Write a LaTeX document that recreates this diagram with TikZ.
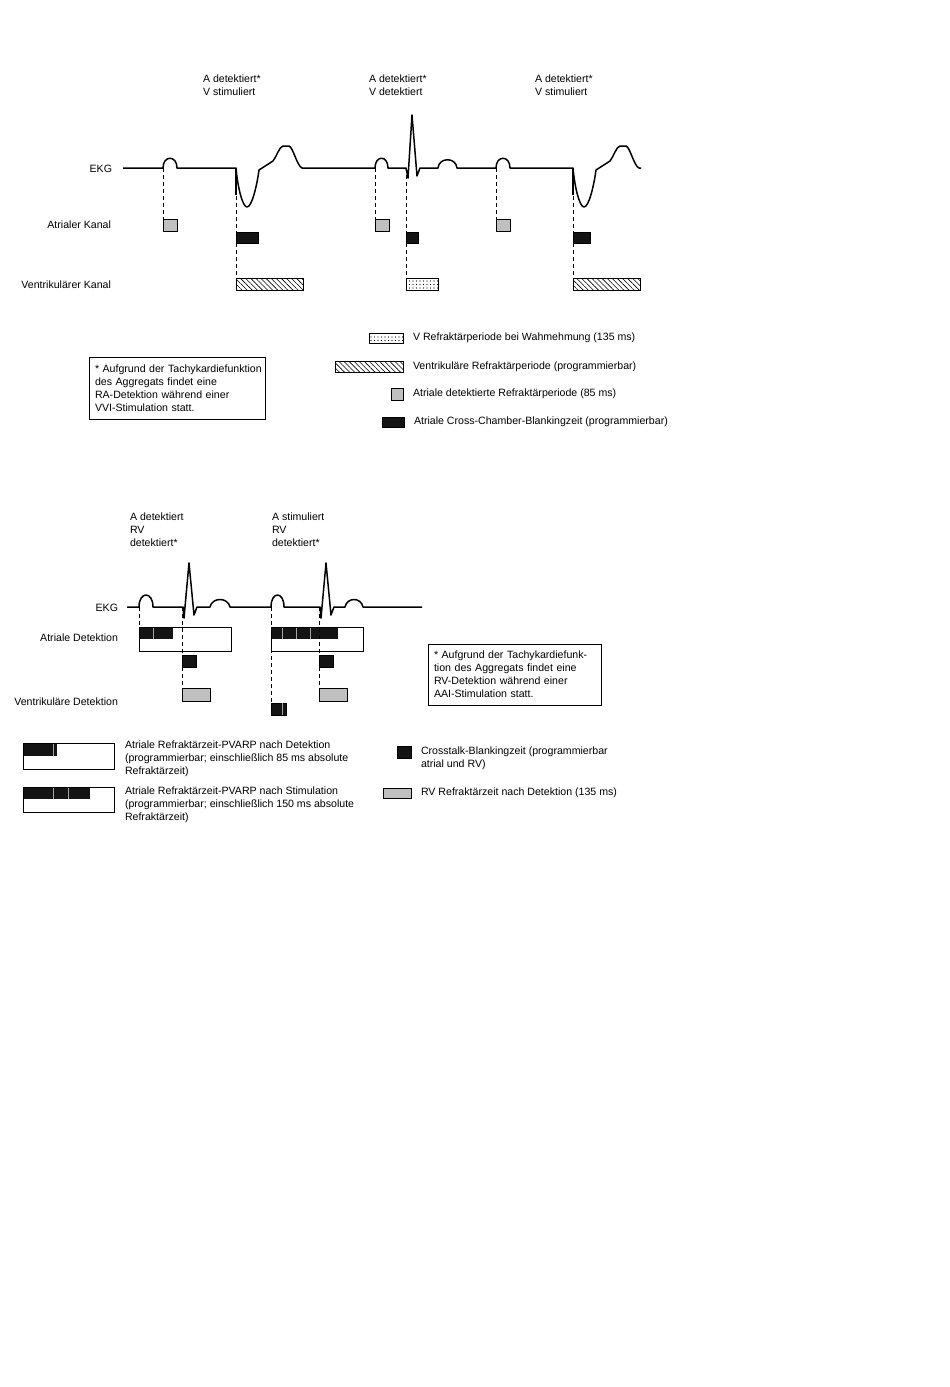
\documentclass[tikz,border=0pt]{standalone}
\usepackage{fontspec}
\setmainfont{Liberation Sans}
\usetikzlibrary{positioning,patterns.meta}
\definecolor{kastengrau}{RGB}{192,192,192}
\definecolor{kastenschwarz}{RGB}{20,20,20}

\begin{document}
\begin{tikzpicture}[x=1pt,y=-1pt,
  every node/.style={font=\fontsize{10.6}{13}\selectfont, inner sep=0pt, outer sep=0pt},
  ekg/.style={line width=1.5pt, line join=round},
  spike/.style={line width=2.4pt},
  lead/.style={dash pattern=on 4pt off 3pt, line width=0.8pt},
  box/.style={draw, line width=0.8pt, anchor=north west},
  grau/.style={box, fill=kastengrau},
  schwarz/.style={box, fill=kastenschwarz},
  schraffur/.style={box, pattern={Lines[angle=-45,distance=3.6pt,line width=0.6pt]}},
  punkte/.style={box, pattern={Dots[distance=3.5pt,radius=0.55pt]}},
  trenner/.style={draw=gray!70, line width=0.6pt},
  lab/.style={anchor=east},
  txt/.style={anchor=west},
  mehrzeilig/.style={anchor=north west, align=left},
  hinweis/.style={draw, line width=0.8pt, anchor=north west, align=left, inner xsep=6pt, text width=164pt, minimum height=62pt}]
\useasboundingbox (0,0) rectangle (950,1387);

% ---------- oberes Diagramm ----------
\foreach \x/\v [count=\i] in {203/V stimuliert,369/V detektiert,535/V stimuliert}
  \node[mehrzeilig] (ereignis\i) at (\x,75) {A detektiert*\\\v};

\node[lab] (ekgA) at (112,169) {EKG};
\node[lab] (kanalA) at (111,225) {Atrialer Kanal};
\node[lab] (kanalV) at (111,285) {Ventrikulärer Kanal};

\draw[ekg] (123,168) -- (163,168) .. controls (163,155) and (177,155) .. (177,168)
  -- (236,168) .. controls (238,190) and (243,207) .. (247,207)
  .. controls (252,207) and (257,185) .. (259,170) -- (273,161)
  .. controls (277,156) and (279,147) .. (283,146) -- (289,146)
  .. controls (293,147) and (297,166) .. (302,168)
  -- (375,168) .. controls (375,155) and (388,155) .. (388,168)
  -- (406,168) -- (408,178) -- (412,115) -- (417,176) -- (420,168)
  -- (438,168) .. controls (439,157) and (456,157) .. (457,168)
  -- (496,168) .. controls (496,155) and (510,155) .. (510,168)
  -- (573,168) .. controls (575,190) and (580,207) .. (584,207)
  .. controls (589,207) and (594,185) .. (596,170) -- (610,161)
  .. controls (614,156) and (616,147) .. (620,146) -- (626,146)
  .. controls (630,147) and (634,166) .. (639,168) -- (641,168);
\draw[spike] (236,168) -- (236,195);
\draw[spike] (573,168) -- (573,195);

\foreach \n/\x in {pa1/163,pa2/375,pa3/496,pv1/236,pv2/406,pv3/573}
  \coordinate (\n) at (\x,168);

\foreach \i/\x in {1/163,2/375,3/496}
  \node[grau, minimum width=14pt, minimum height=12pt] (ga\i) at (\x,219) {};
\foreach \i/\x/\w in {1/236/22pt,2/406/12pt,3/573/17pt}
  \node[schwarz, minimum width=\w, minimum height=11pt] (ba\i) at (\x,232) {};
\node[schraffur, minimum width=67pt, minimum height=12pt] (vr1) at (236,278) {};
\node[punkte, minimum width=32pt, minimum height=12pt] (vr2) at (406,278) {};
\node[schraffur, minimum width=67pt, minimum height=12pt] (vr3) at (573,278) {};

\foreach \i in {1,2,3} {
  \draw[lead] (pa\i) -- (ga\i.north west);
  \draw[lead] (pv\i) -- (ba\i.north west);
  \draw[lead] (ba\i.south west) -- (vr\i.north west);
}

% Legende oben
\node[punkte, minimum width=34pt, minimum height=10pt] (lp) at (369,333) {};
\node[schraffur, minimum width=68pt, minimum height=11pt] (ls) at (335,361) {};
\node[grau, minimum width=12pt, minimum height=12pt] (lg) at (391,388) {};
\node[schwarz, minimum width=22pt, minimum height=10pt] (lb) at (382,417) {};
\node[txt, right=10pt of lp] (tp) {V Refraktärperiode bei Wahmehmung (135 ms)};
\node[txt, right=10pt of ls] (ts) {Ventrikuläre Refraktärperiode (programmierbar)};
\node[txt, right=10pt of lg] (tg) {Atriale detektierte Refraktärperiode (85 ms)};
\node[txt, right=10pt of lb] (tb) {Atriale Cross-Chamber-Blankingzeit (programmierbar)};

\node[hinweis] (hinweis1) at (89,357) {\mbox{* Aufgrund der Tachykardiefunktion}\\des Aggregats findet eine\\RA-Detektion während einer\\VVI-Stimulation statt.};

% ---------- unteres Diagramm ----------
\foreach \x/\a [count=\i] in {130/detektiert,272/stimuliert}
  \node[mehrzeilig] (ereignisB\i) at (\x,513) {A \a\\RV\\detektiert*};

\node[lab] (ekgB) at (118,608) {EKG};
\node[lab] (detA) at (118,638) {Atriale Detektion};
\node[lab] (detV) at (118,702) {Ventrikuläre Detektion};

\draw[ekg] (127,607) -- (139,607) .. controls (139,591) and (153,591) .. (153,607)
  -- (183,607) -- (184,618) -- (189,563) -- (194,615) -- (197,607)
  -- (210,607) .. controls (212,597) and (228,597) .. (230,607)
  -- (271,607) .. controls (271,591) and (284,591) .. (284,607)
  -- (320,607) -- (321,618) -- (326,563) -- (331,615) -- (334,607)
  -- (345,607) .. controls (347,597) and (361,597) .. (363,607)
  -- (422,607);

\foreach \n/\x in {qa1/139,qv1/182,qa2/271,qv2/319}
  \coordinate (\n) at (\x,607);

% PVARP-Balken
\fill[kastenschwarz] (139,627) rectangle ++(34,12);
\fill[kastenschwarz] (271,627) rectangle ++(67,12);
\foreach \x in {153,282,296,310}
  \draw[trenner] (\x,627) -- ++(0,12);
\node[box, minimum width=92pt, minimum height=24pt] (pvarp1) at (139,627) {};
\node[box, minimum width=92pt, minimum height=24pt] (pvarp2) at (271,627) {};

\foreach \i/\x in {1/182,2/319} {
  \node[schwarz, minimum width=14pt, minimum height=12pt] (kb\i) at (\x,655) {};
  \node[grau, minimum width=28pt, minimum height=13pt] (kg\i) at (\x,688) {};
}
\node[schwarz, minimum width=15pt, minimum height=12pt] (vb) at (271,703) {};
\draw[trenner] (282,703) -- ++(0,12);

\draw[lead] (qa1) -- (pvarp1.north west);
\draw[lead] (qa2) -- (vb.north west);
\foreach \i in {1,2} {
  \draw[lead] (qv\i) -- (kb\i.north west);
  \draw[lead] (kb\i.south west) -- (kg\i.north west);
}

\node[hinweis, text width=161pt, minimum height=61pt] (hinweis2) at (428,644) {* Aufgrund der Tachykardiefunk-\\tion des Aggregats findet eine\\RV-Detektion während einer\\AAI-Stimulation statt.};

% Legende unten
\fill[kastenschwarz] (23,743) rectangle ++(34,13);
\draw[trenner] (53,743) -- ++(0,13);
\node[box, minimum width=91pt, minimum height=26pt] (lpv1) at (23,743) {};
\fill[kastenschwarz] (23,787) rectangle ++(67,12);
\foreach \x in {53,68}
  \draw[trenner] (\x,787) -- ++(0,12);
\node[box, minimum width=91pt, minimum height=25pt] (lpv2) at (23,787) {};
\node[mehrzeilig] (tpv1) at (125,741) {Atriale Refraktärzeit-PVARP nach Detektion\\(programmierbar; einschließlich 85 ms absolute\\Refraktärzeit)};
\node[mehrzeilig] (tpv2) at (125,787) {Atriale Refraktärzeit-PVARP nach Stimulation\\(programmierbar; einschließlich 150 ms absolute\\Refraktärzeit)};

\node[schwarz, minimum width=14pt, minimum height=12pt] (lkb) at (397,746) {};
\node[grau, minimum width=28pt, minimum height=10pt] (lkg) at (383,788) {};
\node[mehrzeilig] (tkb) at (421,747) {Crosstalk-Blankingzeit (programmierbar\\atrial und RV)};
\node[txt, right=10pt of lkg] (tkg) {RV Refraktärzeit nach Detektion (135 ms)};
\end{tikzpicture}
\end{document}
